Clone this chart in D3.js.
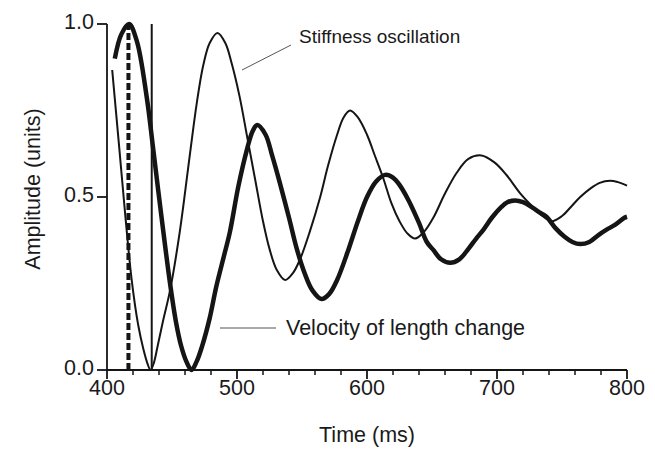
<!DOCTYPE html>
<html><head><meta charset="utf-8">
<script src="https://cdn.jsdelivr.net/npm/d3@7"></script>
<style>body{margin:0;background:#fff}svg{display:block}text{font-family:"Liberation Sans",Arial,sans-serif;fill:#1a1a1a}</style>
</head><body><svg id="c" width="655" height="450"></svg>
<script>
// Stiffness oscillation (thin line)
const thinTime = [404,409,414,419,424,428,431,433.5,436,439,443,448.5,456,464,469,474,479,485,491,496,502,508,514,520,525,530.5,537,543,548.5,556,564,570,577,582,587,593,600,606,612,619,625,631,637,644,651,660,669,678,688,698,707,718,728,735,742,750,757,764,772,779,787,793,800];
const thinAmp  = [0.867,0.66,0.45,0.26,0.13,0.06,0.02,0.0,0.02,0.07,0.14,0.23,0.40,0.63,0.77,0.88,0.945,0.974,0.945,0.885,0.79,0.67,0.55,0.43,0.35,0.29,0.26,0.28,0.32,0.40,0.50,0.59,0.68,0.73,0.75,0.73,0.68,0.62,0.56,0.48,0.43,0.395,0.38,0.40,0.44,0.51,0.57,0.61,0.62,0.60,0.565,0.51,0.47,0.445,0.43,0.445,0.472,0.50,0.525,0.541,0.547,0.543,0.533];
// Velocity of length change (thick line)
const thickTime = [406,411,417,423,430.5,435.5,442,448.5,453,457,461,465,469,473,479,484,490,494.6,501,507.5,512,515.6,522,527,533,540,546,552,558,565,571,577,585,593,600,607,614,620,625,632,640,646,651,657,664,671,678,684,689.5,696,703,708,714,720,727,733,738,745,752,758,764,771,778,784,791,798,800];
const thickAmp  = [0.90,0.97,1.0,0.95,0.79,0.64,0.44,0.25,0.14,0.07,0.025,0.0,0.025,0.067,0.15,0.24,0.33,0.40,0.53,0.635,0.69,0.708,0.68,0.62,0.54,0.44,0.35,0.28,0.23,0.205,0.22,0.26,0.34,0.43,0.50,0.545,0.564,0.556,0.535,0.49,0.425,0.37,0.347,0.32,0.31,0.32,0.35,0.38,0.405,0.44,0.47,0.485,0.49,0.485,0.47,0.455,0.443,0.41,0.385,0.37,0.364,0.37,0.39,0.405,0.42,0.44,0.443];
const dashedMarkerTime = 416.5;
const solidMarkerTime = 434.4;
const xTicks = [400,500,600,700,800];
const xMinorTicks = [420,440,460,480,520,540,560,580,620,640,660,680,720,740,760,780];
const yTicks = [0.0,0.5,1.0];
const xTitle = "Time (ms)";
const yTitle = "Amplitude (units)";
const labelStiff = "Stiffness oscillation";
const labelVel = "Velocity of length change";

const svg = d3.select("#c");
const ink = "#151515";
const x = d3.scaleLinear().domain([400,800]).range([107,627]);
const y = d3.scaleLinear().domain([0,1]).range([370,24]);

// axes
const g = svg.append("g");
g.append("line").attr("x1",x(400)).attr("x2",x(800)).attr("y1",y(0)).attr("y2",y(0)).attr("stroke",ink).attr("stroke-width",1.8);
g.append("line").attr("x1",x(400)).attr("x2",x(400)).attr("y1",y(0)).attr("y2",y(1)).attr("stroke",ink).attr("stroke-width",1.8);
g.selectAll(".xt").data(xTicks).join("line").attr("x1",d=>x(d)).attr("x2",d=>x(d)).attr("y1",y(0)).attr("y2",y(0)+9).attr("stroke",ink).attr("stroke-width",1.8);
g.selectAll(".xm").data(xMinorTicks).join("line").attr("x1",d=>x(d)).attr("x2",d=>x(d)).attr("y1",y(0)).attr("y2",y(0)+5).attr("stroke",ink).attr("stroke-width",1.5);
g.selectAll(".yt").data(yTicks).join("line").attr("x1",x(400)-10).attr("x2",x(400)).attr("y1",d=>y(d)).attr("y2",d=>y(d)).attr("stroke",ink).attr("stroke-width",1.8);
g.selectAll(".xl").data(xTicks).join("text").attr("x",d=>x(d)).attr("y",y(0)+25).attr("text-anchor","middle").attr("font-size",21.5).text(d=>d);
g.selectAll(".yl").data(yTicks).join("text").attr("x",x(400)-13).attr("y",d=>y(d)+5).attr("text-anchor","end").attr("font-size",21.5).text(d=>d.toFixed(1));
svg.append("text").attr("x",(x(400)+x(800))/2).attr("y",442).attr("text-anchor","middle").attr("font-size",21.5).text(xTitle);
svg.append("text").attr("transform","translate(40,"+(y(0.5)-8)+") rotate(-90)").attr("text-anchor","middle").attr("font-size",21.5).text(yTitle);

// markers
svg.append("line").attr("x1",x(solidMarkerTime)).attr("x2",x(solidMarkerTime)).attr("y1",y(0)).attr("y2",y(1)).attr("stroke",ink).attr("stroke-width",2);
svg.append("line").attr("x1",x(dashedMarkerTime)).attr("x2",x(dashedMarkerTime)).attr("y1",y(0)).attr("y2",y(1)).attr("stroke",ink).attr("stroke-width",4).attr("stroke-dasharray","7,3");

// curves
const line = d3.line().x(d=>x(d[0])).y(d=>y(d[1])).curve(d3.curveCatmullRom.alpha(0.5));
svg.append("path").attr("d",line(d3.zip(thinTime,thinAmp))).attr("fill","none").attr("stroke",ink).attr("stroke-width",2);
svg.append("path").attr("d",line(d3.zip(thickTime,thickAmp))).attr("fill","none").attr("stroke",ink).attr("stroke-width",4.5);

// annotations
svg.append("line").attr("x1",242).attr("y1",70).attr("x2",291).attr("y2",45).attr("stroke","#555").attr("stroke-width",1);
svg.append("text").attr("x",299).attr("y",43).attr("font-size",19).text(labelStiff);
svg.append("line").attr("x1",220).attr("y1",328).attr("x2",276).attr("y2",328).attr("stroke","#555").attr("stroke-width",1);
svg.append("text").attr("x",286).attr("y",335).attr("font-size",21.5).text(labelVel);
</script></body></html>
